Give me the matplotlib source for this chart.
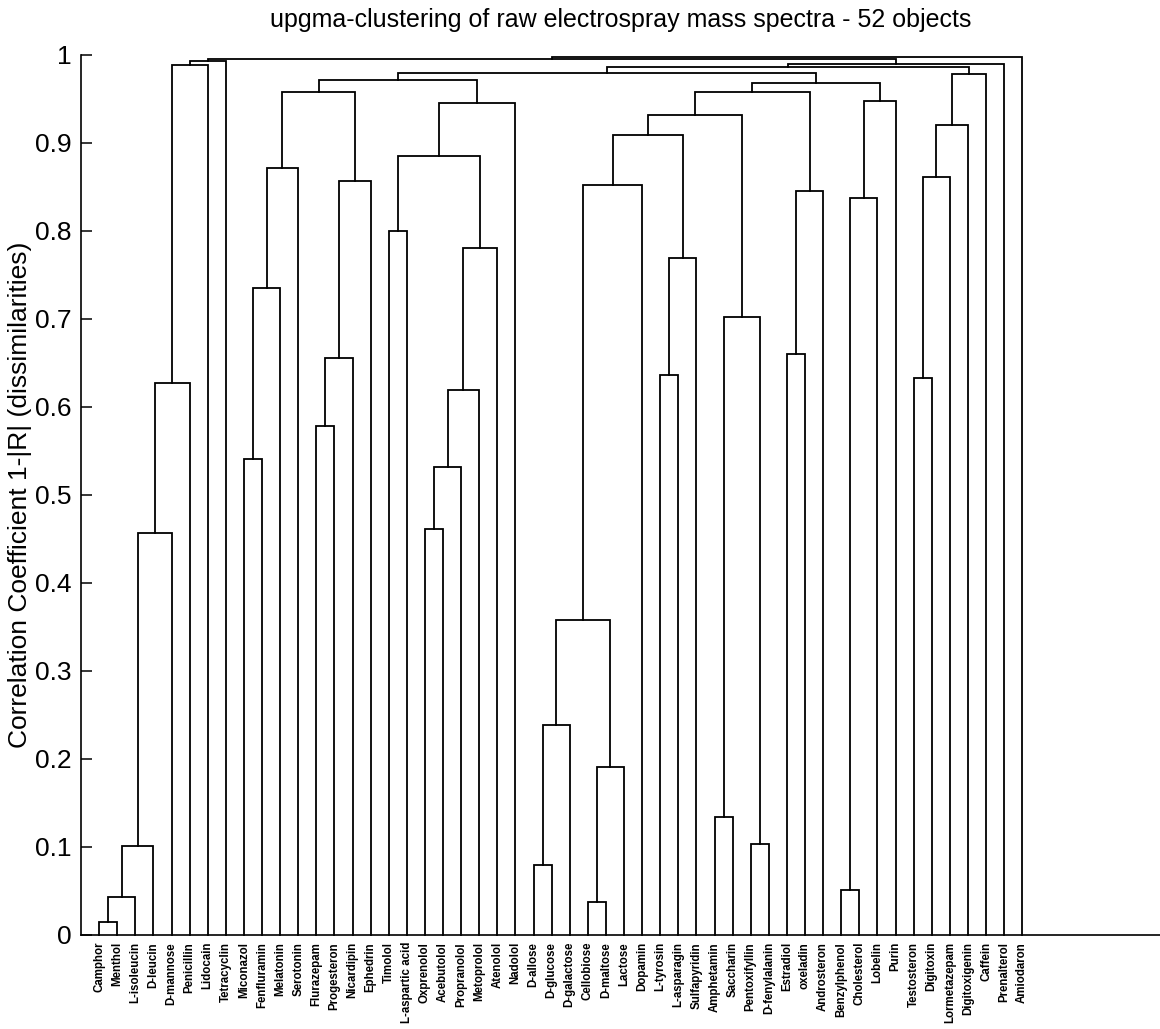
import matplotlib
matplotlib.use("Agg")
import matplotlib.pyplot as plt

plt.rcParams['font.family'] = ['Liberation Sans', 'DejaVu Sans']

# leaf order along the x axis
labels = [
    'Camphor', 'Menthol', 'L-isoleucin', 'D-leucin', 'D-mannose', 'Penicillin',
    'Lidocain', 'Tetracyclin', 'Miconazol', 'Fenfluramin', 'Melatonin', 'Serotonin',
    'Flurazepam', 'Progesteron', 'Nicardipin', 'Ephedrin', 'Timolol', 'L-aspartic acid',
    'Oxprenolol', 'Acebutolol', 'Propranolol', 'Metoprolol', 'Atenolol', 'Nadolol',
    'D-allose', 'D-glucose', 'D-galactose', 'Cellobiose', 'D-maltose', 'Lactose',
    'Dopamin', 'L-tyrosin', 'L-asparagin', 'Sulfapyridin', 'Amphetamin', 'Saccharin',
    'Pentoxifyllin', 'D-fenylalanin', 'Estradiol', 'oxeladin', 'Androsteron',
    'Benzylphenol', 'Cholesterol', 'Lobelin', 'Purin', 'Testosteron', 'Digitoxin',
    'Lormetazepam', 'Digitoxigenin', 'Caffein', 'Prenalterol', 'Amiodaron',
]

# merges: (left, right, height); str = leaf, int = index of an earlier merge
merges = [
    ('Camphor', 'Menthol', 0.015),          # 0
    (0, 'L-isoleucin', 0.043),              # 1
    (1, 'D-leucin', 0.101),                 # 2
    (2, 'D-mannose', 0.457),                # 3
    (3, 'Penicillin', 0.627),               # 4
    (4, 'Lidocain', 0.989),                 # 5
    (5, 'Tetracyclin', 0.993),              # 6
    ('Miconazol', 'Fenfluramin', 0.541),    # 7
    (7, 'Melatonin', 0.735),                # 8
    (8, 'Serotonin', 0.872),                # 9
    ('Flurazepam', 'Progesteron', 0.578),   # 10
    (10, 'Nicardipin', 0.656),              # 11
    (11, 'Ephedrin', 0.857),                # 12
    (9, 12, 0.958),                         # 13
    ('Timolol', 'L-aspartic acid', 0.800),  # 14
    ('Oxprenolol', 'Acebutolol', 0.461),    # 15
    (15, 'Propranolol', 0.532),             # 16
    (16, 'Metoprolol', 0.619),              # 17
    (17, 'Atenolol', 0.781),                # 18
    (14, 18, 0.885),                        # 19
    (19, 'Nadolol', 0.946),                 # 20
    (13, 20, 0.972),                        # 21
    ('D-allose', 'D-glucose', 0.079),       # 22
    (22, 'D-galactose', 0.239),             # 23
    ('Cellobiose', 'D-maltose', 0.037),     # 24
    (24, 'Lactose', 0.191),                 # 25
    (23, 25, 0.358),                        # 26
    (26, 'Dopamin', 0.852),                 # 27
    ('L-tyrosin', 'L-asparagin', 0.636),    # 28
    (28, 'Sulfapyridin', 0.769),            # 29
    (27, 29, 0.909),                        # 30
    ('Amphetamin', 'Saccharin', 0.134),     # 31
    ('Pentoxifyllin', 'D-fenylalanin', 0.103),  # 32
    (31, 32, 0.702),                        # 33
    (30, 33, 0.932),                        # 34
    ('Estradiol', 'oxeladin', 0.660),       # 35
    (35, 'Androsteron', 0.845),             # 36
    (34, 36, 0.958),                        # 37
    ('Benzylphenol', 'Cholesterol', 0.051), # 38
    (38, 'Lobelin', 0.837),                 # 39
    (39, 'Purin', 0.948),                   # 40
    (37, 40, 0.968),                        # 41
    (21, 41, 0.980),                        # 42
    ('Testosteron', 'Digitoxin', 0.633),    # 43
    (43, 'Lormetazepam', 0.861),            # 44
    (44, 'Digitoxigenin', 0.920),           # 45
    (45, 'Caffein', 0.978),                 # 46
    (42, 46, 0.986),                        # 47
    (47, 'Prenalterol', 0.990),             # 48
    (6, 48, 0.995),                         # 49
    (49, 'Amiodaron', 0.998),               # 50
]

yticks = [0, 0.1, 0.2, 0.3, 0.4, 0.5, 0.6, 0.7, 0.8, 0.9, 1]
ytick_labels = ['0', '0.1', '0.2', '0.3', '0.4', '0.5', '0.6', '0.7', '0.8', '0.9', '1']

leaf_x = {name: i + 1 for i, name in enumerate(labels)}

W, H = 1160, 1029
fig = plt.figure(figsize=(W / 100, H / 100), dpi=100)
ax = fig.add_axes([81 / W, 94 / H, (W - 81) / W, 880 / H])

node_x, node_h = [], []


def pos(ref):
    if isinstance(ref, str):
        return leaf_x[ref], 0.0
    return node_x[ref], node_h[ref]


for left, right, h in merges:
    xl, hl = pos(left)
    xr, hr = pos(right)
    ax.plot([xl, xl, xr, xr], [hl, h, h, hr], color='black', lw=1.3,
            solid_joinstyle='miter', clip_on=False)
    node_x.append((xl + xr) / 2)
    node_h.append(h)

ax.set_xlim(0, (W - 81) / 18.1)
ax.set_ylim(0, 1)

ax.set_xticks(range(1, len(labels) + 1))
ax.set_xticklabels(labels, rotation=90, fontsize=8.3, fontweight='bold')
ax.tick_params(axis='x', length=0, pad=5)

ax.set_yticks(yticks)
ax.set_yticklabels(ytick_labels, fontsize=19)
ax.tick_params(axis='y', direction='in', length=8, width=1.1, pad=7)

for side in ['top', 'right']:
    ax.spines[side].set_visible(False)
for side in ['left', 'bottom']:
    ax.spines[side].set_linewidth(1.2)

fig.text(621 / W, 1 - 20 / H,
         'upgma-clustering of raw electrospray mass spectra - 52 objects',
         ha='center', va='center', fontsize=18)
fig.text(20 / W, 1 - 495 / H,
         'Correlation Coefficient 1-|R| (dissimilarities)',
         ha='center', va='center', rotation=90, fontsize=19)

fig.savefig('out.png', dpi=100)
